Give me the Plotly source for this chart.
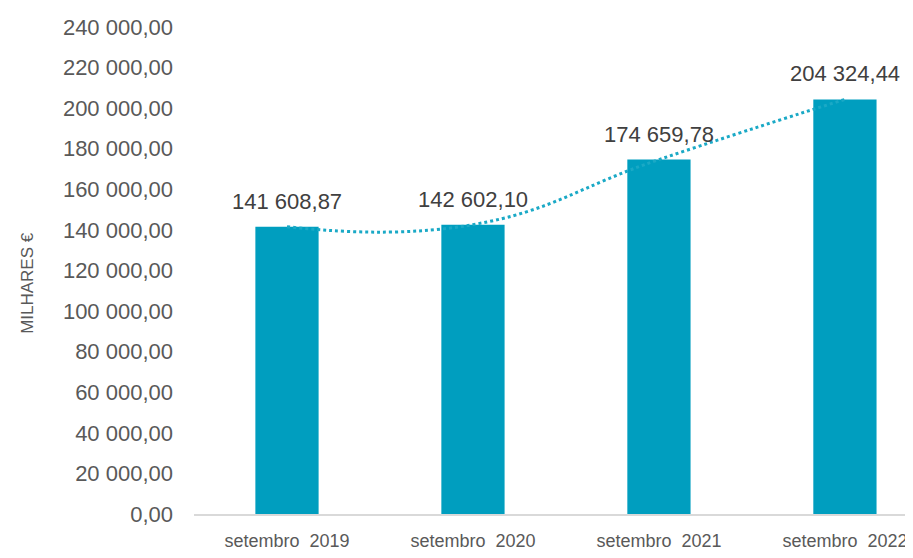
import plotly.graph_objects as go

# ── Data ──────────────────────────────────────────────────────────────────────
periods = ["setembro  2019", "setembro  2020", "setembro  2021", "setembro  2022"]
values = [141608.87, 142602.10, 174659.78, 204324.44]
y_ticks = list(range(0, 240001, 20000))

BAR = "#009EBF"
TREND = "#1AA9C6"
TXT = "#404040"
SUB = "#595959"
FONT = "Liberation Sans, Arial, sans-serif"


def pt_fmt(v):
    return f"{v:,.2f}".replace(",", " ").replace(".", ",")


fig = go.Figure()

fig.add_trace(go.Bar(
    x=periods, y=values,
    marker_color=BAR, marker_line_width=0,
    width=0.34, showlegend=False,
))

# trendline through the bar tops
fig.add_trace(go.Scatter(
    x=periods, y=values, mode="lines",
    line=dict(color=TREND, width=3, dash="dot", shape="spline", smoothing=1.3),
    showlegend=False,
))

for p, v in zip(periods, values):
    fig.add_annotation(
        x=p, y=v, text=pt_fmt(v), showarrow=False,
        yanchor="bottom", yshift=11,
        font=dict(size=22, color=TXT, family=FONT),
    )

fig.add_annotation(
    text="MILHARES €", xref="paper", yref="paper",
    x=-0.232, y=0.475, xanchor="center", yanchor="middle",
    textangle=-90, showarrow=False,
    font=dict(size=17, color=SUB, family=FONT),
)

fig.update_layout(
    width=905, height=550,
    paper_bgcolor="white", plot_bgcolor="white",
    separators=", ",
    margin=dict(l=186, r=0, t=19, b=44),
    font=dict(family=FONT, color=SUB),
)

fig.update_xaxes(
    range=[-0.5, 3.366],
    showline=True, linecolor="#D9D9D9", linewidth=2,
    showgrid=False, ticks="",
    tickfont=dict(size=18, color=SUB, family=FONT),
    ticklabelstandoff=9,
)
fig.update_yaxes(
    range=[0, 240000], tickvals=y_ticks, tickformat=",.2f",
    showgrid=False, zeroline=False, showline=False,
    tickfont=dict(size=22, color=SUB, family=FONT),
    ticklabelstandoff=20,
)

fig.write_html("out.html")
